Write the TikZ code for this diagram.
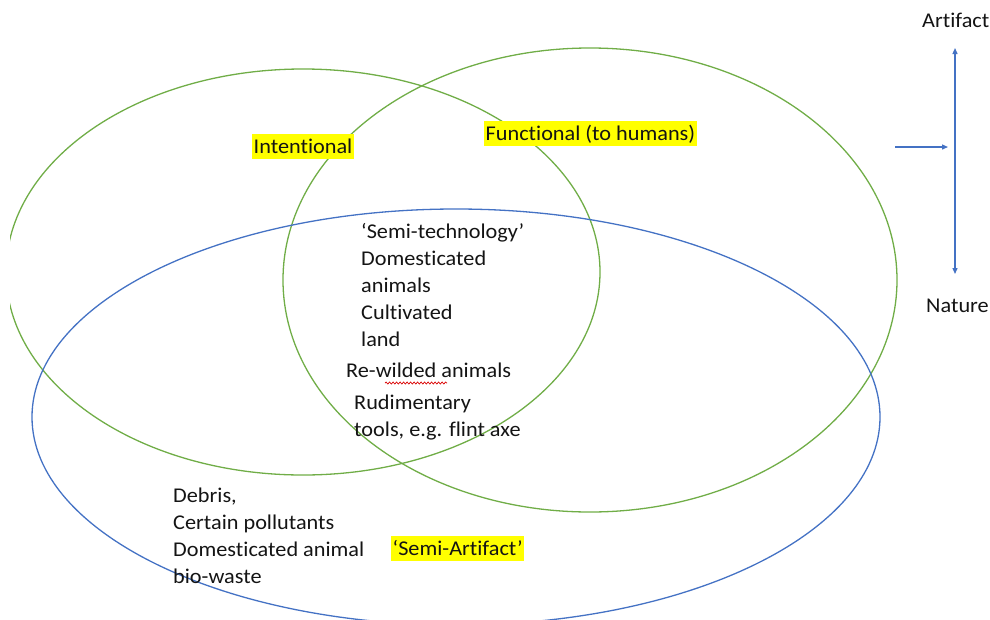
\documentclass[tikz,border=0pt]{standalone}
\usepackage{fontspec}
\setmainfont{Carlito}[FakeStretch=1.06, Ligatures=NoCommon]
\definecolor{setgreen}{RGB}{112, 173, 71}
\definecolor{setblue}{RGB}{68, 114, 196}
\definecolor{inktext}{RGB}{20, 20, 20}
\definecolor{hiyellow}{RGB}{255, 255, 0}
\usetikzlibrary{shapes.geometric, arrows.meta, decorations.pathmorphing}
\tikzset{
    setring/.style={
        ellipse, draw=#1, line width=1.3pt, inner sep=0pt
    },
    hilite/.style={
        fill=hiyellow, text=inktext, anchor=base west,
        inner xsep=1.5pt, inner ysep=0pt, text height=19pt, text depth=6pt
    },
    itemtext/.style={align=left, anchor=base west, inner sep=0pt, text=inktext},
    scaletext/.style={anchor=base west, inner sep=0pt, text=inktext},
    axisarrow/.style={{Triangle[length=6pt,width=5pt]}-{Triangle[length=6pt,width=5pt]}, line width=1.3pt, color=setblue},
    feedarrow/.style={-{Triangle[length=6pt,width=5pt]}, line width=1.3pt, color=setblue},
    spellmark/.style={red!85!black, line width=0.7pt, decorate, decoration={snake, amplitude=1pt, segment length=3.5pt}}
}

\begin{document}
\begin{tikzpicture}[x=1pt, y=-1pt, font=\fontsize{21}{27}\selectfont]
    \useasboundingbox (0,0) rectangle (990,619);
    \clip (10,0) rectangle (990,619);

    % Sets
    \node[setring=setgreen, minimum width=594pt, minimum height=406pt] (intent) at (303,272) {};
    \node[setring=setgreen, minimum width=614pt, minimum height=464pt] (funct) at (590,280) {};
    \node[setring=setblue, minimum width=848pt, minimum height=416pt] (semi) at (456,417) {};

    % Set labels
    \node[hilite] (intentlbl) at (252,153) {Intentional};
    \node[hilite] (functlbl) at (484,140) {Functional (to humans)};
    \node[hilite] (semilbl) at (391,555) {‘Semi-Artifact’};

    % Members (anchored at the last line's baseline)
    \node[itemtext] (semitech) at (361,346) {‘Semi-technology’\\Domesticated\\animals\\Cultivated\\land};
    \node[itemtext] (rewild) at (346,377) {Re-wilded animals};
    \node[itemtext] (tools) at (354,436) {Rudimentary\\tools, e.g. flint axe};
    \node[itemtext] (debris) at (173,583) {Debris,\\Certain pollutants\\Domesticated animal\\bio-waste};

    % Spell-check mark
    \coordinate (wavyA) at (385,383);
    \coordinate (wavyB) at (447,383);
    \draw[spellmark] (wavyA) -- (wavyB);

    % Scale
    \node[scaletext] (artifact) at (922,27) {Artifact};
    \node[scaletext] (nature) at (926,312) {Nature};
    \coordinate (scaletop) at (955,48);
    \coordinate (scalebot) at (955,274);
    \coordinate (feedin) at (895,147);
    \coordinate (feedout) at (948,147);
    \draw[axisarrow] (scalebot) -- (scaletop);
    \draw[feedarrow] (feedin) -- (feedout);

\end{tikzpicture}
\end{document}
